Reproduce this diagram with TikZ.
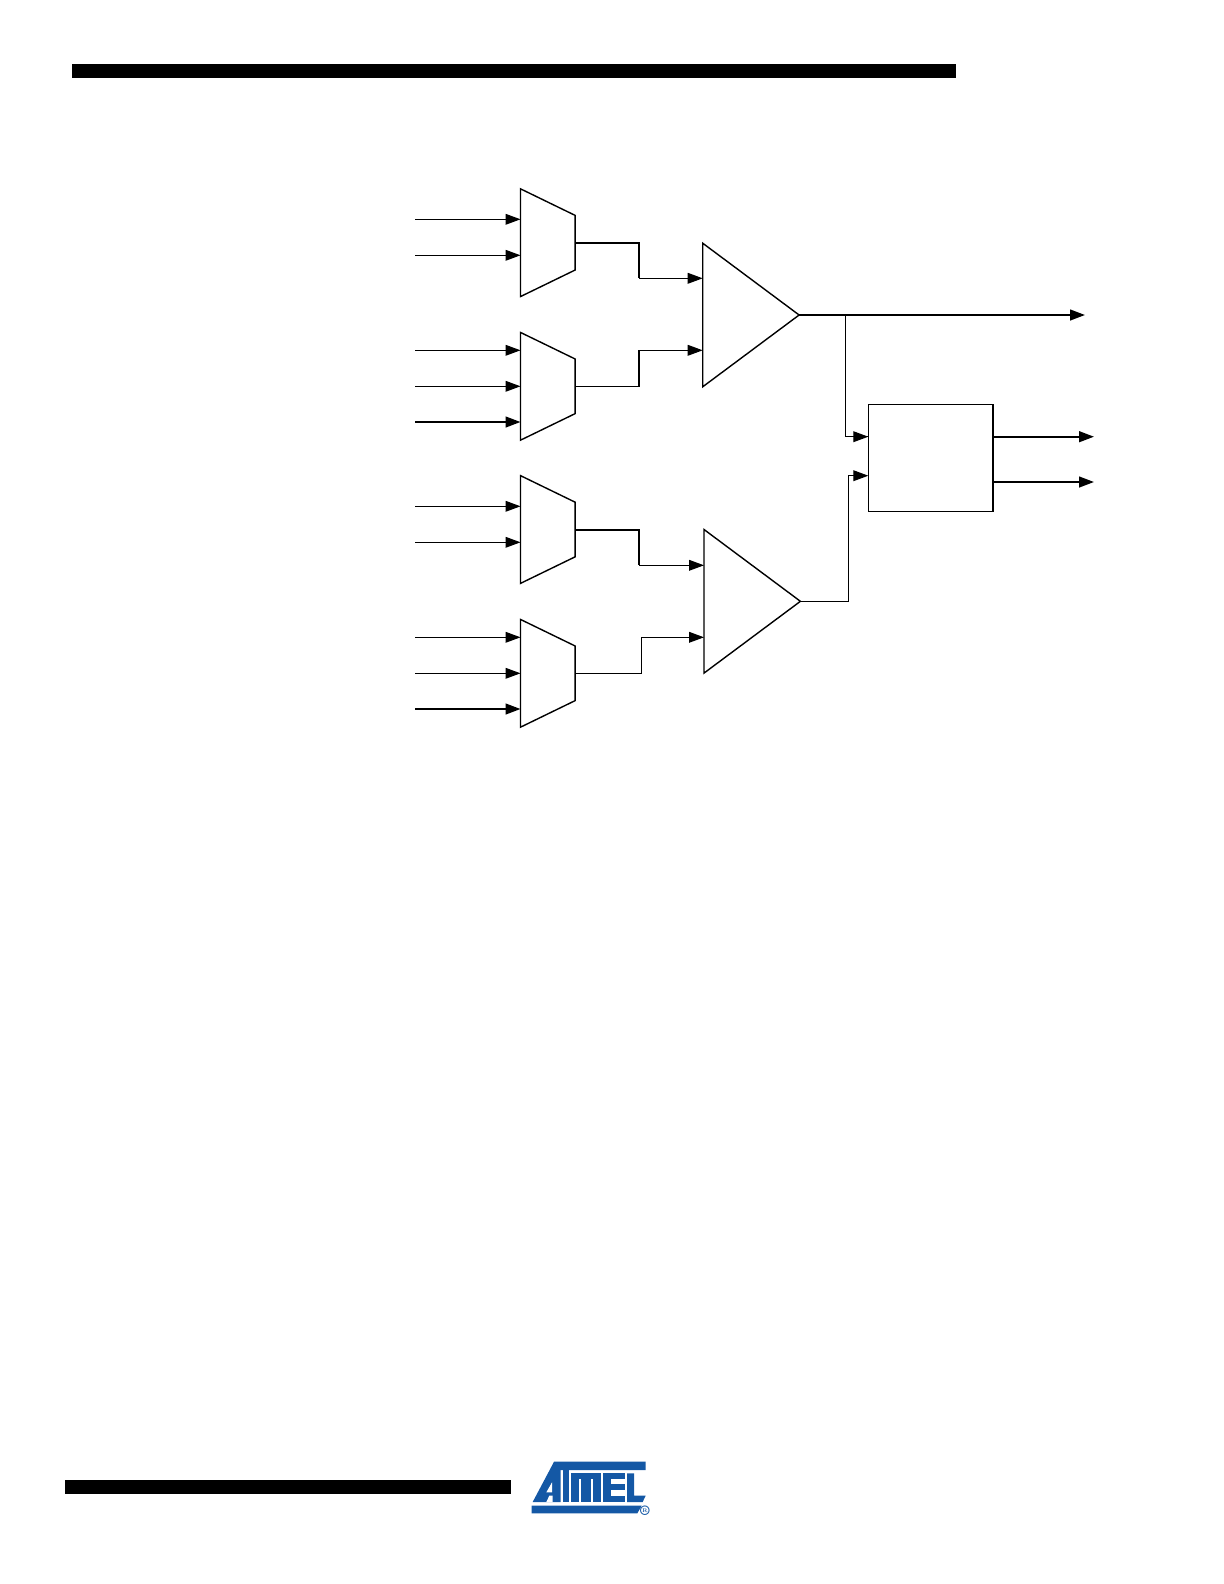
\documentclass[tikz,border=0pt]{standalone}
\usepackage{amsmath, amssymb}
\usetikzlibrary{arrows.meta, positioning, shapes.geometric}
\definecolor{atmelblue}{RGB}{20,88,165}

\begin{document}
\begin{tikzpicture}[
                    x=0.5bp, y=-0.5bp,
                    mux/.style={draw, trapezium, shape border rotate=270, trapezium left angle=64.07, trapezium right angle=64.07, minimum width=108bp/2, minimum height=54.5bp/2, inner sep=1pt, outer sep=0pt, line width=0.7bp},
                    amp/.style={draw, isosceles triangle, isosceles triangle stretches, minimum width=143.6bp/2, minimum height=96.4bp/2, inner sep=0pt, outer sep=0pt, line width=0.7bp},
                    logic/.style={draw, rectangle, minimum width=124.7bp/2, minimum height=107.4bp/2, inner sep=0pt, outer sep=0pt, line width=0.75bp},
                    link/.style={line width=0.55bp, -{Triangle[length=7.5bp, width=5.4bp]}},
                    bus/.style={line width=1bp, -{Triangle[length=7.5bp, width=5.4bp]}},
                    plainlink/.style={line width=0.55bp},
                    plainbus/.style={line width=1bp},
                    bar/.style={fill=black, draw=none},
                    logo/.style={fill=atmelblue, draw=none},
                    slit/.style={fill=white, draw=none}
                ]
                \useasboundingbox (0,0) rectangle (1224,1584);
                \path[bar] (71.7,64) rectangle (956,77.8);
                \path[bar] (64.6,1479.7) rectangle (510.8,1494);

                \node[mux, anchor=bottom side] (m1) at (520.5,242.7) {};
                \node[mux, anchor=bottom side] (m2) at (520.5,386.3) {};
                \node[mux, anchor=bottom side] (m3) at (520.5,529.5) {};
                \node[mux, anchor=bottom side] (m4) at (520.5,673.3) {};
                \node[amp, anchor=lower side] (a1) at (702.7,315) {};
                \node[amp, anchor=lower side] (a2) at (704,601.3) {};
                \node[logic] (cmp) at (930.6,458) {};

                \foreach \i/\m/\y/\s in {1/m1/219.3/link, 2/m1/255.3/link, 3/m2/350.3/link, 4/m2/386.3/link, 5/m2/422/bus,
                        6/m3/506.3/link, 7/m3/542.3/link, 8/m4/637.3/link, 9/m4/673.3/link, 10/m4/709/bus}{
                        \coordinate (in\i) at (415,\y);
                        \draw[\s] (in\i) -- (in\i -| \m.bottom side);
                    }

                \coordinate (a1p) at (639,278.3);
                \coordinate (a1n) at (639,350.3);
                \coordinate (a2p) at (639,565.3);
                \coordinate (a2n) at (641.3,637.3);
                \draw[plainbus] (m1.top side) -| (a1p);
                \draw[link] (a1p) -- (a1p -| a1.lower side);
                \draw[plainlink] (m2.top side) -| (a1n);
                \draw[link] (a1n) -- (a1n -| a1.lower side);
                \draw[plainbus] (m3.top side) -| (a2p);
                \draw[link] (a2p) -- (a2p -| a2.lower side);
                \draw[plainlink] (m4.top side) -| (a2n);
                \draw[link] (a2n) -- (a2n -| a2.lower side);

                \coordinate (out) at (1085,315);
                \coordinate (tap) at (845.3,315);
                \coordinate (hi) at (1094,436.7);
                \coordinate (lo) at (1094,482);
                \coordinate (cmpa) at (868.3,436.7);
                \coordinate (cmpb) at (868.3,475.7);
                \draw[bus] (a1.apex) -- (out);
                \draw[plainlink] (tap) |- (cmpa);
                \draw[link] (tap |- cmpa) ++(6,0) -- (cmpa);
                \draw[plainlink] (a2.apex) -| (848.7,475.7) -- ++(6,0);
                \draw[link] (854,475.7) -- (cmpb);
                \draw[bus] (hi -| cmp.east) -- (hi);
                \draw[bus] (lo -| cmp.east) -- (lo);

                \begin{scope}[shift={(530,1455)}, x=0.5bp/3, y=-0.5bp/3]
                    \path[logo] (72,20) -- (347,20) -- (347,45) -- (59,45) -- cycle;
                    \path[logo] (59,45) -- (92,45) -- (92,141) -- (8,141) -- cycle;
                    \path[slit] (66,82) -- (66,112) -- (49,112) -- cycle;
                    \path[slit] (58,122) -- (68,122) -- (68,141) -- (49,141) -- cycle;
                    \path[logo] (98,45) rectangle (117,141);
                    \path[logo] (124,55) rectangle (212,141);
                    \path[slit] (148,72) rectangle (153,141);
                    \path[slit] (184,72) rectangle (189,141);
                    \path[logo] (220,55) rectangle (284,141);
                    \path[slit] (242,72) rectangle (284,88);
                    \path[slit] (242,106) rectangle (284,122);
                    \path[logo] (291,55) -- (312,55) -- (312,122) -- (347,122) -- (338,141) -- (291,141) -- cycle;
                    \path[logo] (5,152) -- (335,152) -- (322,175) -- (5,175) -- cycle;
                    \node[text=atmelblue, font=\fontsize{7}{7}\bfseries\selectfont, inner sep=0pt] (reg) at (345,168) {\textregistered};
                \end{scope}
            \end{tikzpicture}
\end{document}
